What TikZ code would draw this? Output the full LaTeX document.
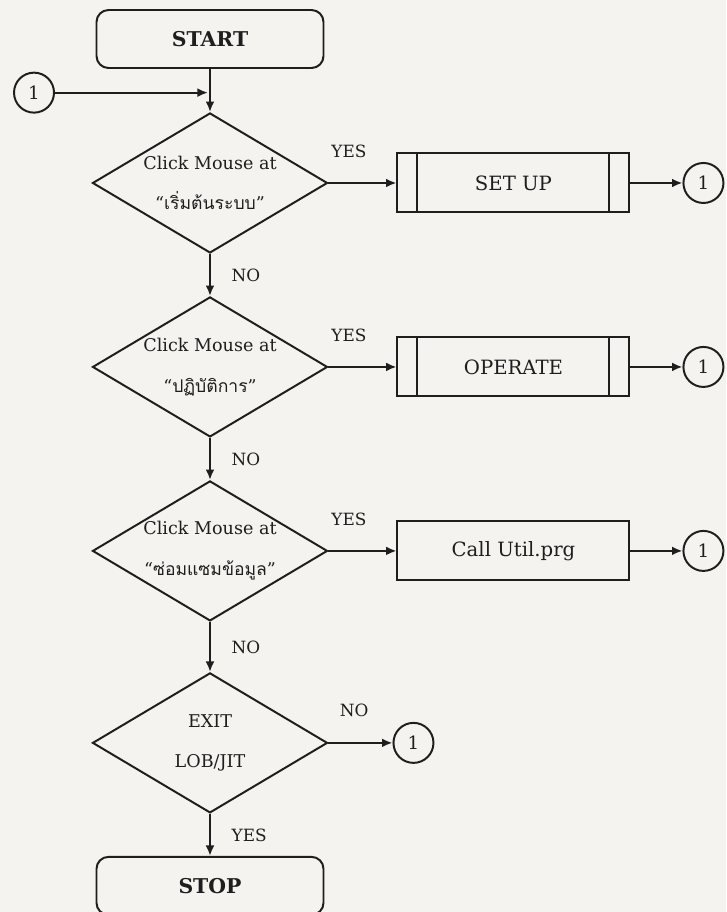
\documentclass[tikz,border=0pt]{standalone}
\usepackage{fontspec}
\setmainfont{DejaVu Serif}
\newfontfamily\thaifont[Script=Thai]{Loma}
\usetikzlibrary{arrows.meta,positioning,shapes.geometric,calc}
\definecolor{ink}{HTML}{1E1E1E}
\definecolor{paper}{HTML}{F4F3F0}
\tikzset{term/.style={draw=ink,line width=1.4pt,rounded corners=3mm,align=center,font=\fontsize{14.5}{17}\selectfont\bfseries,minimum width=5.675cm,minimum height=1.45cm}, decision/.style={diamond,draw=ink,line width=1.4pt,align=center,font=\fontsize{12.5}{29}\selectfont,minimum width=5.875cm,minimum height=3.5cm,aspect=1.68,inner sep=0pt}, box/.style={draw=ink,line width=1.4pt,align=center,font=\fontsize{14}{17}\selectfont,minimum width=5.8cm,minimum height=1.475cm}, subproc/.style={box,path picture={\draw[ink,line width=1.4pt] ([xshift=5mm]path picture bounding box.north west)--([xshift=5mm]path picture bounding box.south west) ([xshift=-5mm]path picture bounding box.north east)--([xshift=-5mm]path picture bounding box.south east);}}, conn/.style={circle,draw=ink,line width=1.4pt,minimum size=1cm,inner sep=0pt,font=\fontsize{13}{15}\selectfont}, arr/.style={-{Latex[length=2.6mm,width=2.2mm]},line width=1.4pt,draw=ink}, vlbl/.style={right=4mm,font=\fontsize{12}{14}\selectfont,text=ink}, hlbl/.style={above=5mm,pos=0.3,font=\fontsize{12}{14}\selectfont,text=ink}}

\begin{document}
\begin{tikzpicture}[node distance=11mm,text=ink]
\path[use as bounding box,fill=paper] (0,0) rectangle (18.15,-22.8);
\node[term] (start) at (5.25,-0.975) {START};
\node[decision,below=1.075cm of start] (d1) {Click Mouse at\\``{\thaifont เริ่มต้นระบบ}''};
\node[decision,below=1.05cm of d1] (d2) {Click Mouse at\\``{\thaifont ปฏิบัติการ}''};
\node[decision,below=1.05cm of d2] (d3) {Click Mouse at\\``{\thaifont ซ่อมแซมข้อมูล}''};
\node[decision,below=1.25cm of d3] (d4) {EXIT\\LOB/JIT};
\node[term,below=1.05cm of d4] (stop) {STOP};
\node[subproc,right=1.7cm of d1] (setup) {SET UP};
\node[subproc,right=1.7cm of d2] (oper) {OPERATE};
\node[box,right=1.7cm of d3] (util) {Call Util.prg};
\node[conn,right=1.3cm of setup] (c1) {1};
\node[conn,right=1.3cm of oper] (c2) {1};
\node[conn,right=1.3cm of util] (c3) {1};
\node[conn,right=1.6cm of d4] (c4) {1};
\coordinate (j) at ($(start.south)!0.55!(d1.north)$);
\node[conn,left=3.875cm of j] (c0) {1};
\draw[arr](start)--(d1);\draw[arr,shorten >=1.5pt](c0)--(j);
\draw[arr](d1)--node[vlbl]{NO}(d2);\draw[arr](d2)--node[vlbl]{NO}(d3);
\draw[arr](d3)--node[vlbl]{NO}(d4);\draw[arr](d4)--node[vlbl]{YES}(stop);
\draw[arr](d1)--node[hlbl]{YES}(setup);\draw[arr](d2)--node[hlbl]{YES}(oper);
\draw[arr](d3)--node[hlbl]{YES}(util);\draw[arr](d4)--node[hlbl,pos=0.4]{NO}(c4);
\draw[arr](setup)--(c1);\draw[arr](oper)--(c2);\draw[arr](util)--(c3);
\end{tikzpicture}
\end{document}
